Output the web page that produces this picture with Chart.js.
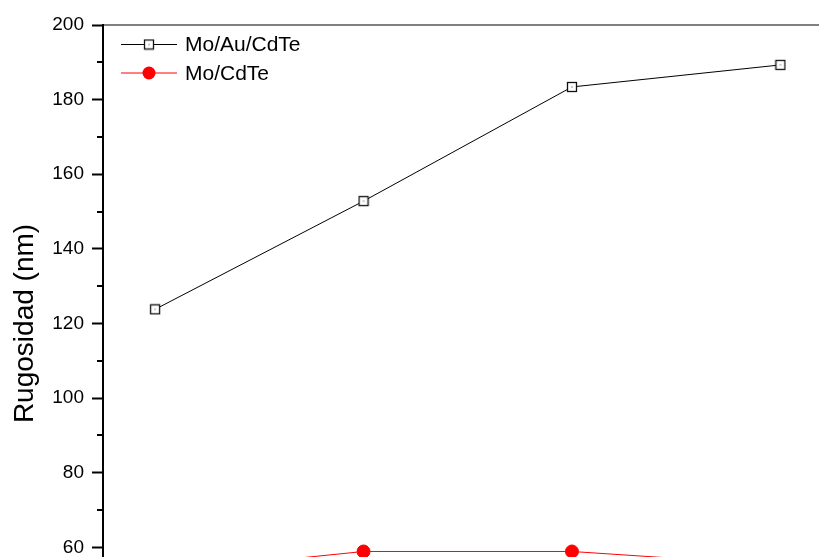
<!DOCTYPE html>
<html>
<head>
<meta charset="utf-8">
<script src="https://cdn.jsdelivr.net/npm/chart.js@4.4.1/dist/chart.umd.min.js"></script>
<style>
    html, body { margin: 0; padding: 0; background: white; overflow: hidden; }
    #wrap { position: absolute; left: 0; top: 0; width: 840px; height: 662px; }
</style>
</head>
<body>
<div id="wrap"><canvas id="rough_chart"></canvas></div>
<script>

// Surface roughness per sample

var samples      = [1, 2, 3, 4];
var mo_au_cdte   = [123.8, 152.8, 183.4, 189.3];
var mo_cdte      = [53.2, 58.9, 58.9, 55.2];
var series_names = ['Mo/Au/CdTe', 'Mo/CdTe'];
var y_ticks      = [40, 60, 80, 100, 120, 140, 160, 180, 200];

Chart.defaults.font.family = "Arial, 'Liberation Sans', sans-serif";
Chart.defaults.color = 'black';


// open square with a dot in the middle
function squareMarker() {
    var c = document.createElement('canvas');
    c.width = 12; c.height = 12;
    var g = c.getContext('2d');
    g.fillStyle = 'white';
    g.fillRect(1, 1, 10, 10);
    g.strokeStyle = '#111';
    g.lineWidth = 1.3;
    g.strokeRect(1.5, 1.5, 9, 9);
    g.fillStyle = '#333';
    g.fillRect(5.5, 5.5, 1, 1);
    return c;
}

var square = squareMarker();


// minor ticks half way between the labelled ones
var minorTicks = {
    id: 'minorTicks',
    afterDraw: function(chart) {
        var ctx = chart.ctx, y = chart.scales.y, left = chart.chartArea.left;
        ctx.save();
        ctx.strokeStyle = 'black';
        ctx.lineWidth = 2;
        for (var i = 0; i < y_ticks.length - 1; i++) {
            var py = Math.round(y.getPixelForValue((y_ticks[i] + y_ticks[i + 1]) / 2));
            ctx.beginPath();
            ctx.moveTo(left - 6, py);
            ctx.lineTo(left, py);
            ctx.stroke();
        }
        ctx.restore();
    }
};


// legend inside the plot, line + marker + name
var innerLegend = {
    id: 'innerLegend',
    afterDraw: function(chart) {
        var ctx = chart.ctx, area = chart.chartArea;
        ctx.save();
        ctx.font = "21px Arial, 'Liberation Sans', sans-serif";
        ctx.textBaseline = 'middle';
        chart.data.datasets.forEach(function(ds, i) {
            var y = area.top + 19.5 + i * 28.5;
            var x0 = area.left + 18, x1 = area.left + 74, xm = (x0 + x1) / 2;
            ctx.strokeStyle = ds.borderColor;
            ctx.lineWidth = 1;
            ctx.beginPath();
            ctx.moveTo(x0, y);
            ctx.lineTo(x1, y);
            ctx.stroke();
            if (i === 0) {
                ctx.drawImage(square, xm - 6, y - 6);
            } else {
                ctx.fillStyle = ds.pointBackgroundColor;
                ctx.beginPath();
                ctx.arc(xm, y, ds.pointRadius, 0, Math.PI * 2);
                ctx.fill();
            }
            ctx.fillStyle = 'black';
            ctx.fillText(ds.label, x1 + 8, y + 1);
        });
        ctx.restore();
    }
};


var ctx = document.getElementById('rough_chart').getContext('2d');

var rough_chart = new Chart(ctx, {
    type: 'line',

    data: {
        datasets: [
            {
                label: series_names[0],
                data: samples.map(function(s, i) { return {x: s, y: mo_au_cdte[i]}; }),
                borderColor: 'black',
                borderWidth: 1,
                pointStyle: square,
                pointRadius: 6,
            },
            {
                label: series_names[1],
                data: samples.map(function(s, i) { return {x: s, y: mo_cdte[i]}; }),
                borderColor: '#ff0000',
                backgroundColor: '#ff0000',
                pointBackgroundColor: '#ff0000',
                pointBorderColor: '#ff0000',
                borderWidth: 1,
                pointStyle: 'circle',
                pointRadius: 6.5,
            },
        ],
    },

    options: {
        responsive: true,
        maintainAspectRatio: false,
        animation: false,
        layout: { padding: { top: 25, left: 0, right: 7, bottom: 0 } },

        scales: {
            x: {
                type: 'linear',
                min: 0.75,
                max: 4.25,
                afterFit: function(s) { s.height = 40; },
                afterBuildTicks: function(s) {
                    s.ticks = samples.map(function(v) { return {value: v}; });
                },
                border: { color: 'black', width: 2 },
                grid: { drawOnChartArea: false, tickLength: 10, tickWidth: 2, tickColor: 'black' },
                ticks: { font: { size: 19 } },
            },
            x2: {
                type: 'linear',
                position: 'top',
                min: 0.75,
                max: 4.25,
                afterFit: function(s) { s.height = 0; },
                border: { color: '#808080', width: 2 },
                grid: { display: false, drawTicks: false },
                ticks: { display: false },
            },
            y: {
                min: 40,
                max: 200,
                afterFit: function(s) { s.width = 103; },
                afterBuildTicks: function(s) {
                    s.ticks = y_ticks.map(function(v) { return {value: v}; });
                },
                border: { color: 'black', width: 2 },
                grid: { drawOnChartArea: false, tickLength: 11, tickWidth: 2, tickColor: 'black' },
                ticks: { font: { size: 19 }, padding: 8 },
                title: {
                    display: true,
                    text: 'Rugosidad (nm)',
                    font: { size: 28 },
                    padding: { top: 8, bottom: 0 },
                },
            },
        },

        plugins: {
            legend: { display: false },
            tooltip: { enabled: false },
        },

        elements: {
            line: { tension: 0 },
        },
    },

    plugins: [minorTicks, innerLegend],
});

</script>
</body>
</html>
